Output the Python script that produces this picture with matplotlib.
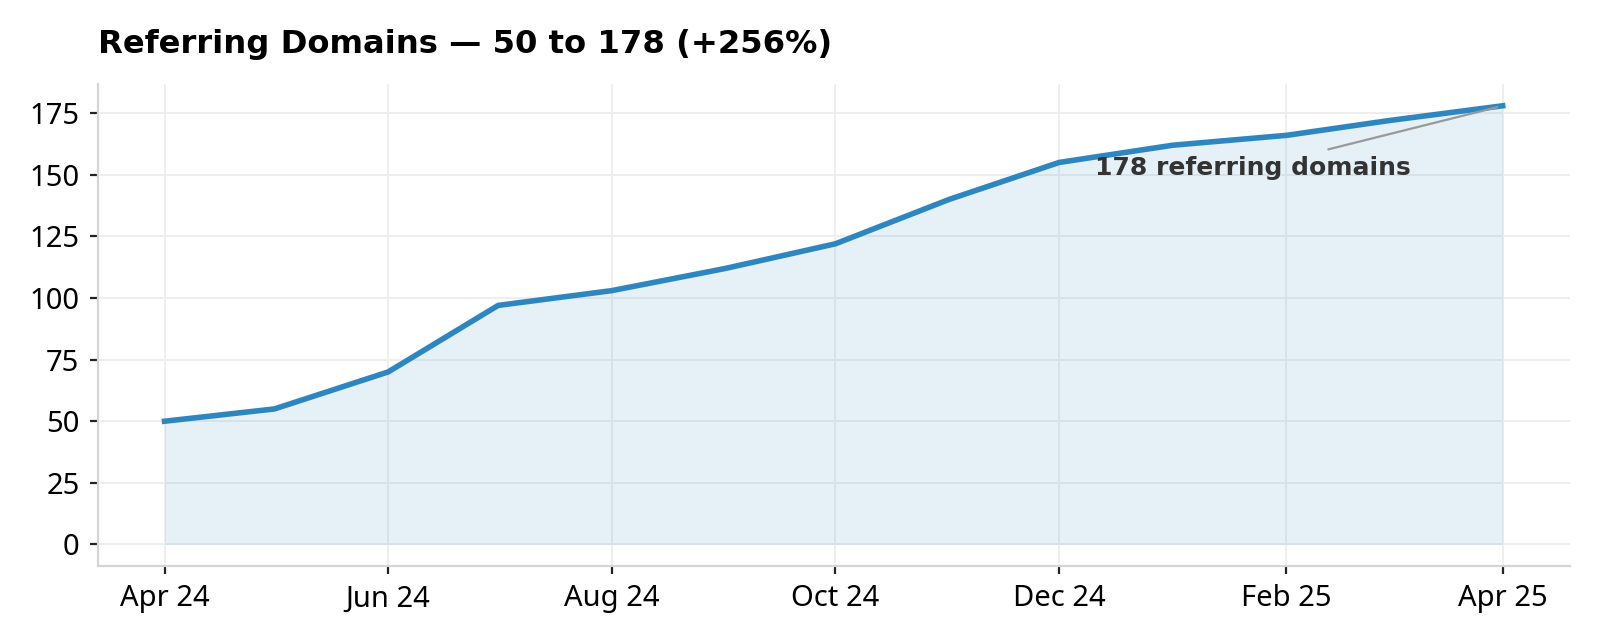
import matplotlib
matplotlib.use("Agg")
import matplotlib.pyplot as plt
import matplotlib.dates as mdates
import pandas as pd

months = ["2024-04", "2024-05", "2024-06", "2024-07", "2024-08", "2024-09", "2024-10",
          "2024-11", "2024-12", "2025-01", "2025-02", "2025-03", "2025-04"]
referring_domains = [50, 55, 70, 97, 103, 112, 122, 140, 155, 162, 166, 172, 178]
title_text = "Referring Domains — 50 to 178 (+256%)"
annot_text = "178 referring domains"

dates = pd.to_datetime(months)
color = "#2E86C1"

plt.rcParams['font.family'] = ['Noto Sans', 'DejaVu Sans']

fig = plt.figure(figsize=(8, 3.2), dpi=200)
ax = fig.add_axes([0.061, 0.115, 0.92, 0.754])

ax.plot(dates, referring_domains, color=color, lw=2.0, zorder=3)
ax.fill_between(dates, referring_domains, 0, color=color, alpha=0.12, lw=0, zorder=2)

ax.xaxis.set_major_locator(mdates.MonthLocator(bymonth=[2, 4, 6, 8, 10, 12]))
ax.xaxis.set_major_formatter(mdates.DateFormatter("%b %y"))
ax.set_yticks([0, 25, 50, 75, 100, 125, 150, 175])

ax.grid(True, color="#eeeeee", lw=0.7, zorder=0)
ax.set_axisbelow(True)
for s in ["top", "right"]:
    ax.spines[s].set_visible(False)
for s in ["left", "bottom"]:
    ax.spines[s].set_color("#d5d5d5")
    ax.spines[s].set_linewidth(0.8)
ax.tick_params(axis="both", labelsize=10.5, length=3, width=0.8, color="#222222")

ax.set_title(title_text, loc="left", fontsize=11.6, fontweight="bold",
             family="DejaVu Sans", pad=11)

ax.annotate(annot_text, xy=(dates[-1], referring_domains[-1]),
            xytext=(-90, -22.5), textcoords="offset points",
            ha="center", va="center", fontsize=9, fontweight="bold",
            family="DejaVu Sans", color="#333333",
            arrowprops=dict(arrowstyle="-", color="#999999", lw=0.8))

fig.savefig("out.png", dpi=200)
